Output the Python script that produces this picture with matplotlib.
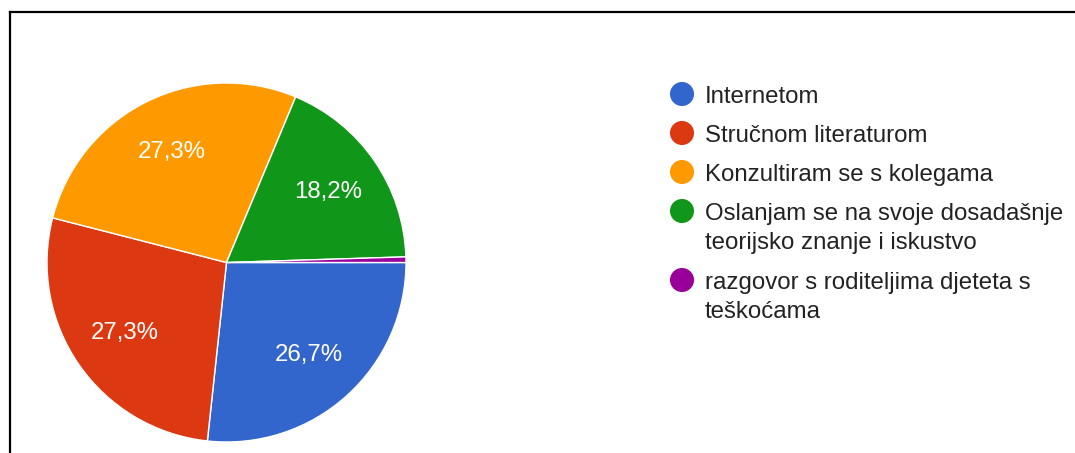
import numpy as np
import matplotlib.pyplot as plt
from matplotlib.lines import Line2D

plt.rcParams['font.family'] = ['Liberation Sans', 'DejaVu Sans']

labels = ["Internetom",
          "Stručnom literaturom",
          "Konzultiram se s kolegama",
          "Oslanjam se na svoje dosadašnje\nteorijsko znanje i iskustvo",
          "razgovor s roditeljima djeteta s\nteškoćama"]
shares = [26.7, 27.3, 27.3, 18.2, 0.5]
colors = ['#3366cc', '#dc3912', '#ff9900', '#109618', '#990099']

W, H = 1075, 453
fig = plt.figure(figsize=(W / 100, H / 100), dpi=100)

# pie axes placed in pixel units
cx, cy, r = 226.5, 262.5, 179.5
ax = fig.add_axes([(cx - r) / W, (H - cy - r) / H, 2 * r / W, 2 * r / H])

def fmt(p):
    if p < 5:
        return ''
    return ('%.1f%%' % p).replace('.', ',')

wedges, texts, autotexts = ax.pie(shares, colors=colors, startangle=0, counterclock=False,
                                  autopct=fmt, pctdistance=0.69, radius=1,
                                  wedgeprops=dict(edgecolor='white', linewidth=1))
for t in autotexts:
    t.set_color('white')
    t.set_fontsize(17.3)
ax.set_xlim(-1, 1)
ax.set_ylim(-1, 1)
ax.set_aspect('equal')
ax.axis('off')

# overlay for legend and frame, pixel coords
ov = fig.add_axes([0, 0, 1, 1])
ov.set_xlim(0, W)
ov.set_ylim(H, 0)
ov.axis('off')

y = 94
for lab, c in zip(labels, colors):
    ov.scatter([682], [y], s=300, color=c, edgecolors='none')
    ov.text(705, y - 8, lab, fontsize=17.3, color='#222222', va='top', ha='left',
            linespacing=1.42)
    y += 30 * (lab.count('\n') + 1) + 9

# partial frame (left and top edges)
ov.add_line(Line2D([9.5, 9.5], [H, 12], color='black', linewidth=1.6))
ov.add_line(Line2D([9.5, W], [12, 12], color='black', linewidth=1.6))

fig.savefig('out.png', dpi=100)
